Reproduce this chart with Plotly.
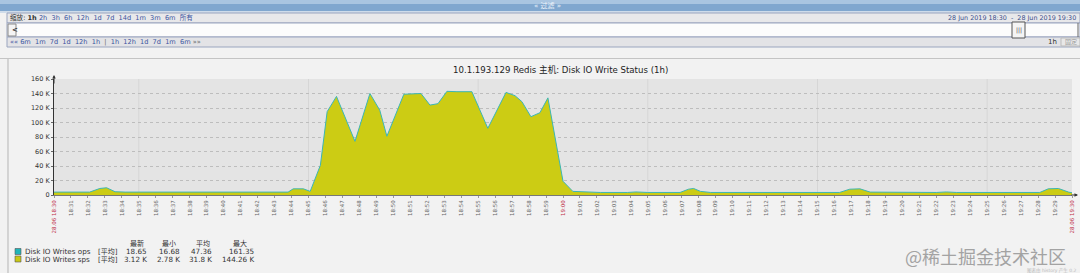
import plotly.graph_objects as go

# ---------------- data ----------------
minutes = [0, 2.1, 2.7, 3.1, 3.6, 4.2, 13.8, 14.1, 14.7, 15.1, 15.7, 16.1, 16.65,
           17.45, 17.74, 18.62, 19.2, 19.62, 20.62, 21.63, 22.16, 22.63, 23.16,
           23.75, 24.63, 25.57, 26.64, 27.17, 27.58, 28.11, 28.64, 29.11, 30.0,
           30.58, 32.2, 33.8, 34.3, 35.0, 36.9, 37.4, 37.7, 38.1, 38.7, 46.3,
           46.9, 47.5, 48.1, 52.0, 52.6, 53.2, 58.1, 58.6, 59.2, 59.8, 60]
sps_k = [4, 4, 9, 10, 4.5, 4, 4, 8.5, 8.5, 5, 41, 115, 136,
         92, 74, 140, 117, 81, 139, 140, 124, 126, 143,
         142.5, 142.5, 92, 141.5, 137, 128.7, 108, 113.5, 134, 19,
         5, 3.5, 3.5, 4.2, 3.5, 3.5, 8, 9, 5, 3.5, 3.5,
         8, 8.5, 4, 3.5, 4.2, 3.5, 3.5, 8.5, 9, 4, 3.1]

tick_minutes = list(range(0, 61))
tick_labels = []
for m in tick_minutes:
    h = 18 + (30 + m) // 60
    mm = (30 + m) % 60
    tick_labels.append(f"{h}:{mm:02d}")
tick_labels[0] = "28.06 18:30"
tick_labels[60] = "28.06 19:30"
red_ticks = [0, 30, 60]

y_ticks = [0, 20, 40, 60, 80, 100, 120, 140, 160]
y_labels = ["0", "20 K", "40 K", "60 K", "80 K", "100 K", "120 K", "140 K", "160 K"]

legend_names = ["Disk IO Writes ops", "Disk IO Writes sps"]
legend_func = ["[平均]", "[平均]"]
stat_headers = ["最新", "最小", "平均", "最大"]
stats_ops = ["18.65", "16.68", "47.36", "161.35"]
stats_sps = ["3.12 K", "2.78 K", "31.8 K", "144.26 K"]

title = "10.1.193.129 Redis 主机: Disk IO Write Status (1h)"

# ---------------- geometry helpers ----------------
W, H = 1080, 273
L, R, T, B = 54, 1072, 79, 195
PW, PH = R - L, B - T
FONT = "DejaVu Sans, Noto Sans CJK SC, sans-serif"


def fx(px):
    return (px - L) / PW


def fy(py):
    return (B - py) / PH


shapes = []
ann = []


def rect(x0, y0, x1, y1, fill, line=None, lw=0, layer="below"):
    shapes.append(dict(type="rect", xref="paper", yref="paper",
                       x0=fx(x0), x1=fx(x1), y0=fy(y1), y1=fy(y0),
                       fillcolor=fill, layer=layer,
                       line=dict(color=line or fill, width=lw)))


def hline(x0, x1, y, color, w=1, dash="solid"):
    shapes.append(dict(type="line", xref="paper", yref="paper",
                       x0=fx(x0), x1=fx(x1), y0=fy(y), y1=fy(y), layer="below",
                       line=dict(color=color, width=w, dash=dash)))


def vline(x, y0, y1, color, w=1):
    shapes.append(dict(type="line", xref="paper", yref="paper",
                       x0=fx(x), x1=fx(x), y0=fy(y0), y1=fy(y1), layer="below",
                       line=dict(color=color, width=w)))


def text(px, py, s, size=7, color="#333", anchor="left", family=FONT):
    ann.append(dict(xref="paper", yref="paper", x=fx(px), y=fy(py), text=s,
                    showarrow=False, xanchor=anchor, yanchor="middle",
                    font=dict(size=size, color=color, family=family)))


# ---------------- page chrome ----------------
# header bar
rect(0, 0, 1080, 4, "#a9c5e1")
rect(0, 4, 1080, 11, "#80a7cf")
rect(0, 11, 1080, 13, "#cfdcea")
text(547, 6, "« 过滤 »", size=7, color="#eef4fb", anchor="center")
# filter box
rect(7, 13, 1080, 23, "#e8e8ea", "#9aa5bf", 1)
rect(7, 23, 1080, 37, "#fcfcfc", "#9aa5bf", 1)
rect(7, 37, 1080, 47, "#e3e3e6", "#9aa5bf", 1)
rect(8, 24, 16, 36, "#f4f4f4", "#8a8a8a", 1)
text(10, 30, "<b><</b>", size=7, color="#333")
rect(1012, 22, 1025, 38, "#f4f4f4", "#555", 1)
text(1018.5, 30, "|||", size=6, color="#444", anchor="center")
vline(1078, 23, 37, "#666")
text(8, 18, "缩放: <b>1h</b> <span style='color:#3b55a0'>2h  3h  6h  12h  1d  7d  14d  1m  3m  6m  所有</span>",
     size=6.6, color="#333")
text(8, 42, "<span style='color:#3b55a0'>«« 6m  1m  7d  1d  12h  1h</span>  |  <span style='color:#3b55a0'>1h  12h  1d  7d  1m  6m</span> »»",
     size=6.6, color="#666")
text(1078, 18, "28 Jun 2019 18:30  -  28 Jun 2019 19:30", size=6.4, color="#3b4f8a", anchor="right")
text(1046, 42, "1h", size=7, color="#333")
rect(1061, 38, 1080, 46, "#e8e8e8", "#bbb", 1)
text(1063, 42, "固定", size=6, color="#999")
# separator and graph panel border
hline(0, 1080, 58.5, "#c4c4c4")
vline(8, 59, 273, "#b5b5b5")

# plot vertical grid lines every 10 minutes
for m in [5, 15, 25, 35, 45, 55]:
    shapes.append(dict(type="line", xref="x", yref="paper", x0=m, x1=m, y0=0, y1=1,
                       layer="below", line=dict(color="#d6d6d6", width=1)))

# title
text(560, 70, title, size=8.6, color="#222", anchor="center")

# axis arrows
ann.append(dict(xref="paper", yref="paper", x=0, y=fy(75), ax=0, ay=10,
                showarrow=True, arrowhead=2, arrowsize=0.7, arrowwidth=1,
                arrowcolor="#333", text=""))
ann.append(dict(xref="paper", yref="paper", x=fx(1078), y=0, ax=-8, ay=0,
                showarrow=True, arrowhead=2, arrowsize=0.7, arrowwidth=1,
                arrowcolor="#333", text=""))

# legend
hdr_x = [137, 169, 203, 240]
val_right = [149, 182, 214, 256]
for hx, h in zip(hdr_x, stat_headers):
    text(hx, 243, h, size=7, color="#333", anchor="center")
row_y = [251.5, 259]
colors = ["#20b4b8", "#c8c814"]
for i, (name, func) in enumerate(zip(legend_names, legend_func)):
    y = row_y[i]
    rect(15, y - 3, 21, y + 3, colors[i], "#555", 0.6, layer="above")
    text(23, y, name, size=7.2, color="#333")
    text(96, y, func, size=7, color="#333")
    vals = stats_ops if i == 0 else stats_sps
    for vx, v in zip(val_right, vals):
        text(vx, y, v, size=7.2, color="#333", anchor="right")

# watermark
text(1068, 256, "@稀土掘金技术社区", size=18, color="#a3a3a3", anchor="right",
     family="Noto Sans CJK SC, sans-serif")
text(1079, 270.5, "图表由 history 产生 0.2", size=4.5, color="#bbb", anchor="right")

# ---------------- traces ----------------
fig = go.Figure()
fig.add_trace(go.Scatter(
    x=minutes, y=sps_k, mode="lines", fill="tozeroy",
    fillcolor="#cccc14", line=dict(color="#3cb6b4", width=1),
    hoverinfo="skip", showlegend=False,
))

ticktext = []
for i, t in enumerate(tick_labels):
    if i in red_ticks:
        ticktext.append(f"<span style='color:#c0304a'>{t}</span>")
    else:
        ticktext.append(t)

fig.update_layout(
    width=W, height=H,
    margin=dict(l=L, r=W - R, t=T, b=H - B, pad=0),
    paper_bgcolor="#f2f2f2",
    plot_bgcolor="#e4e4e4",
    font=dict(family=FONT, color="#333"),
    shapes=shapes,
    annotations=ann,
    showlegend=False,
    xaxis=dict(
        range=[0, 60], tickmode="array", tickvals=tick_minutes, ticktext=ticktext,
        tickangle=-90, tickfont=dict(size=5.5, color="#666"),
        showgrid=False, zeroline=False, showline=True, linecolor="#777",
        linewidth=1, ticks="outside", ticklen=2, tickcolor="#999",
        automargin=False, fixedrange=True,
    ),
    yaxis=dict(
        range=[0, 160], tickmode="array", tickvals=y_ticks, ticktext=y_labels,
        tickfont=dict(size=6.5, color="#333"),
        showgrid=True, gridcolor="#bdbdbd", griddash="dot", gridwidth=1,
        zeroline=False, showline=True, linecolor="#333", linewidth=1,
        ticks="outside", ticklen=2, tickcolor="#666",
        automargin=False, fixedrange=True,
    ),
)

fig.write_html("out.html")
